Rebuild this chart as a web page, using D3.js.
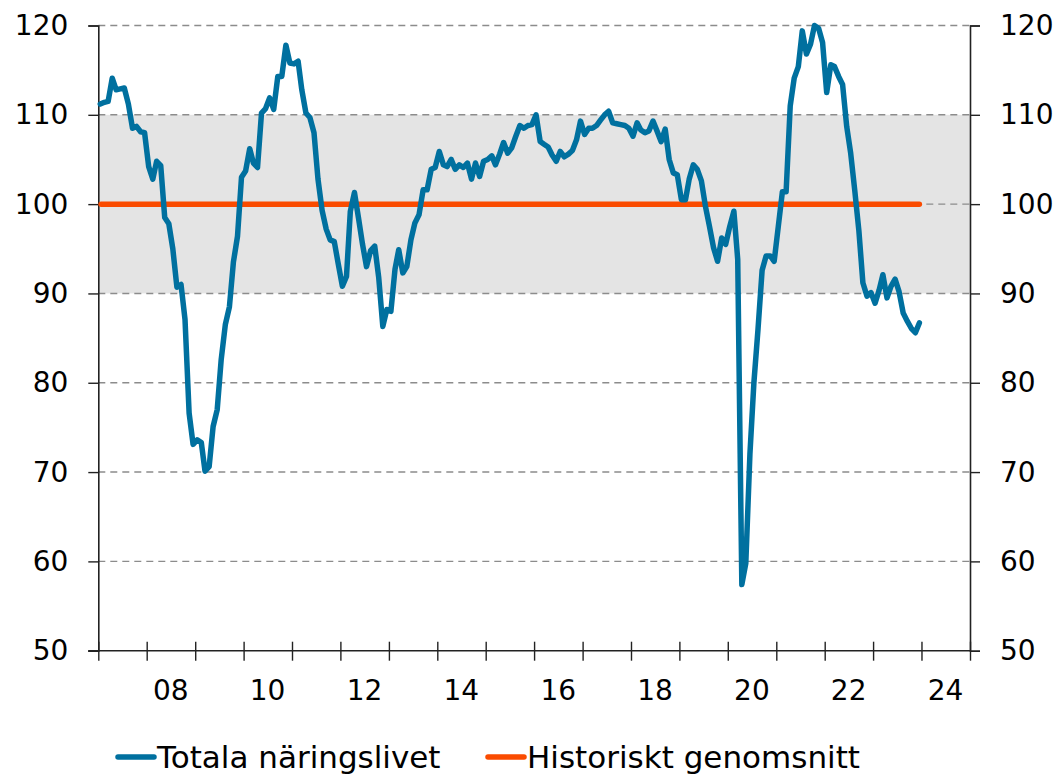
<!DOCTYPE html>
<html>
<head>
<meta charset="utf-8">
<script src="https://cdn.jsdelivr.net/npm/d3@7"></script>
<style>
  body { margin: 0; background: #fff; }
  svg text { font-family: "DejaVu Sans", Verdana, sans-serif; fill: #000; }
</style>
</head>
<body>
<svg id="chart"></svg>
<script>
"use strict";

let width = 1061;
let height = 775;

// Totala näringslivet, monthly, Jan 2007 - Dec 2023
let startYear = 2007;
let totala = [
  111.2, 111.4, 111.5, 114.1, 112.8, 112.9, 113.0, 111.2, 108.5, 108.7, 108.1, 108.0,
  104.2, 102.8, 104.8, 104.3, 98.5, 97.8, 95.0, 90.7, 91.0, 87.1, 76.6, 73.1,
  73.6, 73.3, 70.1, 70.6, 75.1, 77.0, 82.6, 86.5, 88.5, 93.5, 96.4, 103.0,
  103.7, 106.2, 104.6, 104.1, 110.2, 110.7, 111.9, 110.6, 114.3, 114.3, 117.8, 115.8,
  115.7, 116.0, 112.8, 110.2, 109.7, 108.0, 102.8, 99.3, 97.2, 96.0, 95.8, 93.3,
  90.8, 91.9, 99.2, 101.3, 98.5, 95.5, 93.0, 94.8, 95.3, 91.8, 86.3, 88.2,
  88.0, 92.7, 94.9, 92.3, 93.0, 96.0, 97.9, 98.8, 101.6, 101.6, 103.9, 104.1,
  105.9, 104.4, 104.2, 105.0, 103.9, 104.4, 104.1, 104.6, 102.8, 104.6, 103.1, 104.8,
  105.0, 105.4, 104.4, 105.6, 106.9, 105.7, 106.3, 107.6, 108.8, 108.5, 108.8, 108.9,
  110.0, 107.0, 106.7, 106.4, 105.5, 104.8, 105.9, 105.3, 105.6, 106.0, 107.2, 109.3,
  107.8, 108.5, 108.5, 108.8, 109.4, 110.0, 110.4, 109.1, 109.0, 108.9, 108.8, 108.5,
  107.6, 109.1, 108.3, 108.0, 108.2, 109.3, 108.2, 107.0, 108.4, 105.0, 103.5, 103.3,
  100.5, 100.5, 102.8, 104.4, 103.9, 102.6, 99.8, 97.5, 95.1, 93.6, 96.2, 95.5,
  97.5, 99.2, 93.8, 57.4, 59.8, 72.0, 80.0, 86.0, 92.6, 94.2, 94.2, 93.6,
  97.5, 101.4, 101.4, 111.0, 114.1, 115.4, 119.4, 116.8, 117.9, 120.0, 119.7, 118.1,
  112.5, 115.6, 115.4, 114.3, 113.4, 108.7, 105.7, 101.5, 97.0, 91.2, 89.7, 90.1,
  88.9, 90.4, 92.1, 89.5, 90.8, 91.6, 90.2, 87.8, 86.9, 86.1, 85.6, 86.7
];
let historisktSnitt = 100;
let normalBand = [90, 110];
let yTicks = [50, 60, 70, 80, 90, 100, 110, 120];
let xLabelYears = [2008, 2010, 2012, 2014, 2016, 2018, 2020, 2022, 2024];
let seriesNames = ["Totala näringslivet", "Historiskt genomsnitt"];
let seriesColors = ["#00709f", "#fa4b00"];

let plotLeft = 98.3, plotRight = 970, plotTop = 25.5, plotBottom = 650.7;

let svg = d3.select('#chart').attr('width', width).attr('height', height);

let x = d3.scaleTime()
    .domain([new Date(2007, 0, 1), new Date(2025, 0, 1)])
    .range([plotLeft, plotRight]);
let y = d3.scaleLinear()
    .domain([50, 120])
    .range([plotBottom, plotTop]);

let dates = totala.map((v, i) => new Date(startYear, i, 16));

// grey "normal" band
svg.append('rect')
    .attr('x', plotLeft)
    .attr('y', y(normalBand[1]))
    .attr('width', plotRight - plotLeft)
    .attr('height', y(normalBand[0]) - y(normalBand[1]))
    .style('fill', '#e4e4e4');

// dashed grid
svg.append('g').selectAll('line')
    .data(yTicks.filter(d => d > 50))
    .enter()
    .append('line')
      .attr('x1', plotLeft).attr('x2', plotRight)
      .attr('y1', d => y(d)).attr('y2', d => y(d))
      .style('stroke', '#8c8c8c')
      .style('stroke-width', 1.4)
      .style('stroke-dasharray', '7,5');

// axes
let leftAxis = svg.append('g')
    .attr('transform', `translate(${plotLeft},0)`)
    .call(d3.axisLeft(y).tickValues(yTicks).tickSize(10).tickPadding(20));
let rightAxis = svg.append('g')
    .attr('transform', `translate(${plotRight},0)`)
    .call(d3.axisRight(y).tickValues(yTicks).tickSize(10).tickPadding(20));
let bottomAxis = svg.append('g')
    .attr('transform', `translate(0,${plotBottom})`)
    .call(d3.axisBottom(x).ticks(d3.timeYear.every(1)).tickSize(10).tickFormat(''));
bottomAxis.selectAll('.tick line').attr('y1', -9);

[leftAxis, rightAxis, bottomAxis].forEach(g => {
    g.select('.domain').style('stroke', '#222').style('stroke-width', 1.6);
    g.selectAll('.tick line').style('stroke', '#222').style('stroke-width', 1.4);
    g.selectAll('text').style('font-size', '28px').style('font-family', '"DejaVu Sans", Verdana, sans-serif');
});
bottomAxis.select('.domain').attr('d', `M${plotLeft - 10},0H${plotRight}`);

// year labels centred in the year
svg.append('g').selectAll('text')
    .data(xLabelYears)
    .enter()
    .append('text')
      .attr('x', d => x(new Date(d, 6, 1)))
      .attr('y', 700)
      .attr('text-anchor', 'middle')
      .style('font-size', '28px')
      .text(d => d3.timeFormat('%y')(new Date(d, 0, 1)));

// historical average
svg.append('line')
    .attr('x1', plotLeft + 2.8).attr('x2', x(dates[dates.length - 1]))
    .attr('y1', y(historisktSnitt)).attr('y2', y(historisktSnitt))
    .style('stroke', seriesColors[1])
    .style('stroke-width', 5.5)
    .style('stroke-linecap', 'round');

// main line
let line = d3.line()
    .x((d, i) => x(dates[i]))
    .y(d => y(d));

svg.append('path')
    .datum(totala)
    .attr('d', line)
    .style('fill', 'none')
    .style('stroke', seriesColors[0])
    .style('stroke-width', 5.5)
    .style('stroke-linejoin', 'round')
    .style('stroke-linecap', 'round');

// legend
let legendX = [118, 488];
let legend = svg.append('g').selectAll('g')
    .data(seriesNames)
    .enter()
    .append('g')
      .attr('transform', (d, i) => `translate(${legendX[i]},757)`);
legend.append('line')
    .attr('x1', 0).attr('x2', 36)
    .style('stroke', (d, i) => seriesColors[i])
    .style('stroke-width', 5.5)
    .style('stroke-linecap', 'round');
legend.append('text')
    .attr('x', 39)
    .attr('y', 11)
    .style('font-size', '31px')
    .text(d => d);
</script>
</body>
</html>
